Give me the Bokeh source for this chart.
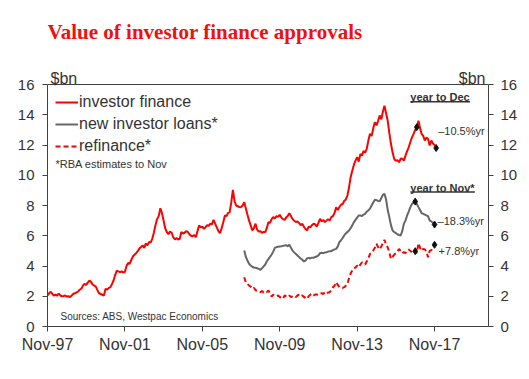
import pandas as pd
from bokeh.plotting import figure
from bokeh.models import (Range1d, LinearAxis, FixedTicker, DatetimeTickFormatter,
                          Legend, LegendItem, Label, ColumnDataSource, Span)
from bokeh.embed import file_html
from bokeh.resources import INLINE

# ---------------- data ($bn, monthly) ----------------
investor_start = "1997-11-01"
investor_finance = [
    2.05, 2.2,
    2.3, 2.15, 2.05, 2.1, 2.05, 2.18, 2.05, 2.0, 2.02, 2.05, 1.98, 2.0,
    1.94, 2.05, 2.15, 2.2, 2.25, 2.3, 2.43, 2.5, 2.7, 2.82, 2.75, 2.9,
    3.04, 2.95, 2.78, 2.7, 2.64, 2.4, 2.2, 2.15, 2.1, 2.05, 2.49, 2.45,
    2.55, 2.6, 2.8, 3.04, 3.4, 3.7, 3.65, 3.6, 3.64, 3.58, 3.6, 4.0,
    4.2, 4.15, 4.4, 4.63, 4.75, 4.85, 4.98, 5.15, 5.25, 5.36, 5.2, 5.5,
    5.36, 5.6, 5.55, 5.8, 6.2, 6.7, 7.1, 7.3, 7.82, 7.5, 7.0, 6.5,
    6.24, 6.1, 6.28, 6.2, 5.9, 5.75, 5.85, 5.75, 5.8, 6.25, 6.15, 6.2,
    6.3, 6.25, 6.1, 6.0, 5.97, 6.05, 5.9, 6.3, 6.68, 6.55, 6.6, 6.45,
    6.57, 6.7, 6.65, 6.8, 6.75, 7.05, 6.8, 6.55, 6.3, 6.17, 6.5, 6.9,
    7.34, 7.3, 7.5, 7.56, 8.2, 9.04, 8.3, 8.0, 7.95, 7.9, 7.89, 8.0,
    8.22, 7.8, 7.4, 7.0, 6.7, 6.35, 6.5, 6.8, 6.4, 6.28, 6.3, 6.2,
    6.25, 6.24, 6.5, 6.9, 6.85, 7.1, 7.23, 7.15, 7.3, 7.25, 7.38, 7.2,
    7.1, 7.05, 7.2, 7.3, 7.49, 7.3, 7.1, 7.0, 6.9, 6.95, 6.85, 6.7,
    6.8, 6.6, 6.45, 6.35, 6.6, 6.55, 6.7, 6.8, 6.75, 6.6, 6.85, 7.12,
    6.95, 7.05, 6.9, 7.0, 7.1, 7.0, 7.23, 7.3, 7.5, 7.89, 7.7, 7.9,
    8.05, 8.1, 8.3, 8.4, 8.66, 9.2, 9.87, 10.3, 10.7, 10.97, 11.2, 10.9,
    11.4, 11.3, 11.6, 11.5, 11.75, 12.3, 12.74, 12.6, 13.1, 13.5, 13.3, 13.6,
    13.95, 13.7, 14.2, 14.6, 14.1, 13.6, 12.8, 12.08, 11.5, 11.09, 10.95, 11.0,
    10.86, 11.1, 11.09, 10.97, 11.3, 11.6, 11.85, 12.2, 12.5, 12.74, 13.0, 13.18,
    13.6, 13.1, 12.74, 12.6, 12.3, 12.5, 12.4, 11.97, 12.3, 12.1, 12.0, 11.8,
]

rba_start = "2008-01-01"
new_investor_loans = [
    5.02, 4.6, 4.36, 4.15, 4.03, 3.95, 3.9, 3.88, 3.85, 3.81, 3.75, 3.85,
    3.97, 4.1, 4.3, 4.45, 4.6, 4.76, 4.95, 5.2, 5.25, 5.27, 5.29, 5.3,
    5.33, 5.36, 5.38, 5.3, 5.4, 5.2, 5.02, 4.9, 4.8, 4.69, 4.6, 4.5,
    4.41, 4.3, 4.36, 4.5, 4.54, 4.5, 4.55, 4.54, 4.6, 4.63, 4.7, 4.85,
    4.88, 4.85, 4.9, 4.91, 4.95, 4.98, 4.98, 5.05, 5.1, 5.13, 5.3, 5.58,
    5.7, 5.85, 6.02, 6.15, 6.25, 6.35, 6.5, 6.7, 6.9, 7.05, 7.2, 7.34,
    7.34, 7.3, 7.4, 7.45, 7.6, 7.67, 7.8, 8.0, 8.2, 8.38, 8.35, 8.3,
    8.28, 8.5, 8.7, 8.77, 8.4, 7.7, 7.23, 6.7, 6.35, 6.25, 6.17, 6.1,
    6.05, 6.02, 6.3, 6.8, 7.0, 7.34, 7.6, 7.89, 8.1, 8.2, 8.26, 8.1,
    7.89, 7.7, 7.5, 7.45, 7.4, 7.34, 7.3, 7.0, 6.95, 6.85, 6.74,
]
refinance = [
    3.26, 2.9, 2.82, 2.7, 2.64, 2.49, 2.55, 2.4, 2.38, 2.3, 2.27, 2.35,
    2.25, 2.3, 2.27, 2.38, 2.2, 1.98, 2.1, 2.05, 2.0, 2.05, 1.95, 1.9,
    1.83, 2.05, 2.0, 1.95, 2.05, 1.94, 2.0, 2.05, 1.95, 2.05, 2.1, 2.0,
    2.05, 1.95, 1.9, 1.83, 2.0, 2.1, 2.16, 2.05, 2.12, 2.12, 2.1, 2.2,
    2.2, 2.15, 2.25, 2.16, 2.25, 2.27, 2.4, 2.6, 2.7, 2.93, 2.75, 2.6,
    2.6, 2.55, 2.6, 2.7, 2.82, 3.2, 3.5, 3.7, 3.85, 3.9, 4.03, 3.92,
    4.1, 4.25, 4.15, 4.1, 4.3, 4.5, 4.8, 4.9, 5.02, 5.2, 5.47, 5.25,
    5.1, 5.3, 5.5, 5.73, 5.4, 5.24, 4.9, 4.47, 4.6, 4.75, 4.85, 4.95,
    5.13, 5.0, 4.85, 4.91, 4.85, 5.0, 5.1, 5.0, 4.9, 5.05, 4.98, 4.85,
    5.51, 5.2, 5.0, 5.13, 5.1, 4.95, 4.58, 5.0, 5.05, 5.2, 5.4,
]

investor_marks = ["2016-12-01", "2017-12-01"]
rba_marks = ["2016-11-01", "2017-11-01"]
investor_change = "\u201310.5%yr"
new_loans_change = "\u201318.3%yr"
refinance_change = "+7.8%yr"

x_tick_dates = ["1997-11-01", "2001-11-01", "2005-11-01", "2009-11-01",
                "2013-11-01", "2017-11-01"]
y_ticks = [0, 2, 4, 6, 8, 10, 12, 14, 16]

# ---------------- styling ----------------
RED = "#FF0000"
GREY = "#666666"
TXT = "#333333"
AX = "#404040"
FONT = "Liberation Sans"

W, H = 529, 379
B_LEFT, B_RIGHT, B_BOTTOM = 47, 41, 53
AXIS_TOP_PX = 84                      # pixel row where the value 16 sits
Y_MAX = 16
frame_h = H - B_BOTTOM
y_top = Y_MAX * frame_h / (frame_h - AXIS_TOP_PX)   # frame extends up to hold the title

inv_dates = pd.date_range(investor_start, periods=len(investor_finance), freq="MS")
rba_dates = pd.date_range(rba_start, periods=len(new_investor_loans), freq="MS")
inv_src = ColumnDataSource(dict(x=inv_dates, y=investor_finance))
new_src = ColumnDataSource(dict(x=rba_dates, y=new_investor_loans))
ref_src = ColumnDataSource(dict(x=rba_dates, y=refinance))

x_start, x_end = pd.Timestamp("1997-11-01"), pd.Timestamp("2020-08-15")
p = figure(width=W, height=H, x_axis_type="datetime", title=None,
           x_range=Range1d(x_start, x_end), y_range=Range1d(0, y_top),
           output_backend="svg", toolbar_location=None,
           min_border_left=B_LEFT, min_border_right=B_RIGHT, min_border_top=0,
           min_border_bottom=B_BOTTOM)
p.background_fill_color = "white"
p.border_fill_color = "white"
p.outline_line_color = None
p.xgrid.visible = False
p.ygrid.visible = False
p.add_layout(Span(location=Y_MAX, dimension="width", line_color=AX, line_width=1))

r_inv = p.line("x", "y", source=inv_src, color=RED, line_width=2)
r_new = p.line("x", "y", source=new_src, color=GREY, line_width=2)
r_ref = p.line("x", "y", source=ref_src, color=RED, line_width=2, line_dash="5 3")

# end-point markers
inv_m = [investor_finance[list(inv_dates).index(pd.Timestamp(d))] for d in investor_marks]
new_m = [new_investor_loans[list(rba_dates).index(pd.Timestamp(d))] for d in rba_marks]
ref_m = [refinance[list(rba_dates).index(pd.Timestamp(d))] for d in rba_marks]
mk_x = [pd.Timestamp(d) for d in investor_marks] + [pd.Timestamp(d) for d in rba_marks] * 2
mk_y = inv_m + new_m + ref_m
p.scatter(mk_x, mk_y, marker="diamond", size=7, color="#111111")

# axes
p.yaxis.ticker = FixedTicker(ticks=y_ticks)
p.extra_y_ranges = {"right": Range1d(0, y_top)}
ry = LinearAxis(y_range_name="right", ticker=FixedTicker(ticks=y_ticks))
p.add_layout(ry, "right")
p.xaxis.ticker = FixedTicker(ticks=[pd.Timestamp(d).value / 1e6 for d in x_tick_dates])
fmt = "%b-%y"
p.xaxis.formatter = DatetimeTickFormatter(years=fmt, months=fmt, days=fmt, hours=fmt,
                                          minutes=fmt, seconds=fmt, minsec=fmt,
                                          hourmin=fmt, milliseconds=fmt, microseconds=fmt)
for ax in [p.xaxis[0], p.yaxis[0], ry]:
    ax.axis_line_color = AX
    ax.major_tick_line_color = AX
    ax.major_tick_out = 5
    ax.major_tick_in = 0
    ax.minor_tick_line_color = None
    ax.major_label_text_color = TXT
    ax.major_label_text_font = FONT
p.yaxis[0].bounds = (0, Y_MAX)
ry.bounds = (0, Y_MAX)
p.xaxis.major_label_text_font_size = "16px"
p.xaxis.major_label_standoff = 4
p.yaxis[0].major_label_text_font_size = "15px"
p.yaxis[0].major_label_standoff = 8
ry.major_label_text_font_size = "15px"
ry.major_label_standoff = 7

# legend
legend = Legend(items=[LegendItem(label="investor finance", renderers=[r_inv]),
                       LegendItem(label="new investor loans*", renderers=[r_new]),
                       LegendItem(label="refinance*", renderers=[r_ref])],
                location=(2, 164), margin=0, padding=6, spacing=2,
                glyph_width=23, glyph_height=20, label_height=20, label_standoff=1,
                label_text_font=FONT, label_text_font_size="16px", label_text_color=TXT,
                background_fill_alpha=0, border_line_alpha=0)
p.add_layout(legend)

def lab(x, y, text, size, **kw):
    kw.setdefault("text_font", FONT)
    kw.setdefault("text_color", TXT)
    p.add_layout(Label(x=x, y=y, text=text, text_font_size=size, **kw))

# title
lab(x_start, Y_MAX, "Value of investor finance approvals", "21px", y_offset=53,
    text_baseline="alphabetic", text_font="Liberation Serif", text_font_style="bold",
    text_color="#F01010")

lab(x_start, Y_MAX, "$bn", "16px", x_offset=3, y_offset=6, text_baseline="alphabetic")
lab(x_end, Y_MAX, "$bn", "16px", x_offset=-3, y_offset=6,
    text_baseline="alphabetic", text_align="right")
lab(x_start, 10.75, "*RBA estimates to Nov", "11px", x_offset=8, text_baseline="middle")
lab(x_start, 0.65, "Sources: ABS, Westpac Economics", "10px", x_offset=13, text_baseline="middle")

lab(pd.Timestamp(investor_marks[1]), 12.9, investor_change, "11px", x_offset=2, text_baseline="middle")
lab(pd.Timestamp(rba_marks[1]), 7.0, new_loans_change, "11px", x_offset=3, text_baseline="middle")
lab(pd.Timestamp(rba_marks[1]), 5.02, refinance_change, "11px", x_offset=4, text_baseline="middle")

lab(pd.Timestamp("2016-08-01"), 15.16, "year to Dec", "11px", text_baseline="middle",
    text_font_style="bold")
lab(pd.Timestamp("2016-08-01"), 9.19, "year to Nov*", "11px", text_baseline="middle",
    text_font_style="bold")
p.segment(x0=[pd.Timestamp("2016-08-01")] * 2, x1=[pd.Timestamp("2019-09-01"), pd.Timestamp("2019-12-01")],
          y0=[14.86, 8.9], y1=[14.86, 8.9], line_color=TXT, line_width=1.5)

open("out.html", "w").write(file_html(p, INLINE))
